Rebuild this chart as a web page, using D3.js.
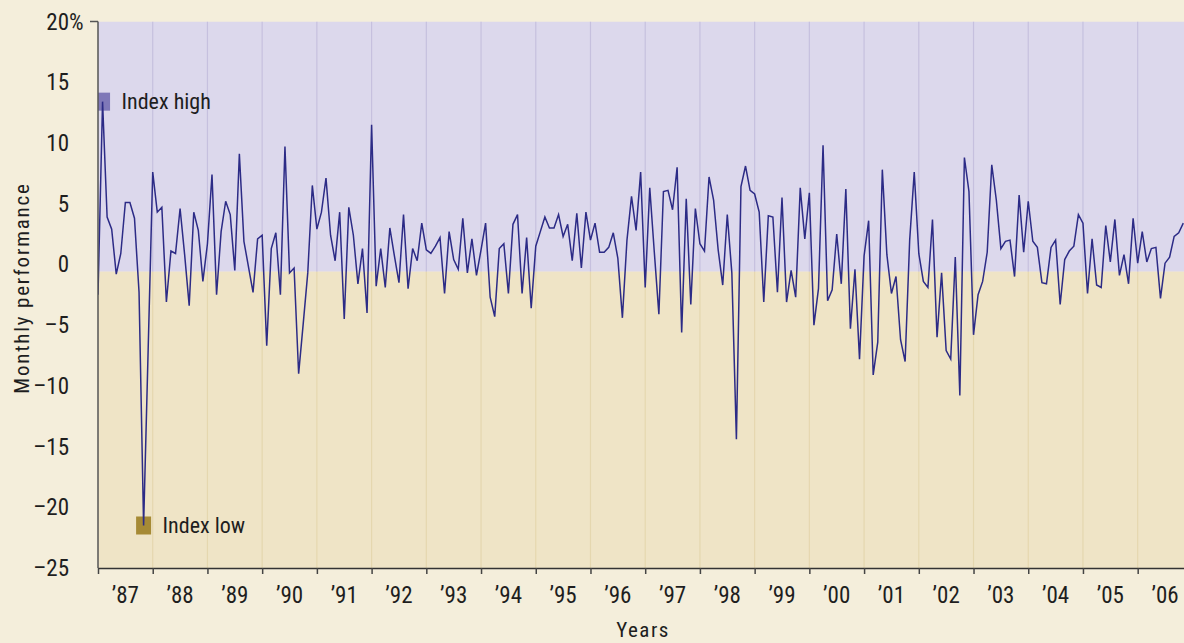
<!DOCTYPE html>
<html><head><meta charset="utf-8">
<script src="https://cdn.jsdelivr.net/npm/d3@7"></script>
<style>
body{margin:0;background:#f4eedb;}
svg{display:block;}
text{font-family:"Liberation Sans Narrow","Arial Narrow","Roboto Condensed",sans-serif;fill:#1e1e1e;}
</style>
</head><body><svg id="chart" width="1184" height="643"></svg>
<script>
// ---------- data ----------
const years = d3.range(1987, 2007);
const yearLabels = years.map(y => "\u2019" + String(y).slice(2));
const yTicks = [20, 15, 10, 5, 0, -5, -10, -15, -20, -25];
const yTickLabels = ["20", "15", "10", "5", "0", "\u20135", "\u201310", "\u201315", "\u201320", "\u201325"];
const monthly = [
  -2.5, 13.4, 3.9, 2.9, -0.8, 0.9, 5.1, 5.1, 3.8, -2.3, -21.5, -7.0,
  7.6, 4.3, 4.7, -3.1, 1.1, 0.9, 4.6, 0.8, -3.4, 4.3, 2.8, -1.4,
  1.7, 7.4, -2.5, 2.7, 5.2, 4.1, -0.5, 9.1, 1.9, -0.2, -2.3, 2.1,
  2.4, -6.7, 1.3, 2.6, -2.5, 9.7, -0.7, -0.3, -9.0, -4.9, -0.7, 6.5,
  2.9, 4.3, 7.1, 2.4, 0.3, 4.3, -4.5, 4.7, 2.4, -1.6, 1.3, -4.0,
  11.5, -1.8, 1.3, -1.9, 3.0, 0.7, -1.5, 4.1, -2.0, 1.3, 0.3, 3.4,
  1.2, 0.9, 1.5, 2.2, -2.4, 2.7, 0.4, -0.4, 3.8, -0.7, 2.1, -0.9,
  1.2, 3.4, -2.7, -4.3, 1.3, 1.7, -2.4, 3.3, 4.1, -2.4, 2.2, -3.6,
  1.5, 2.7, 3.9, 3.0, 3.0, 4.1, 2.3, 3.3, 0.3, 4.2, -0.3, 4.3,
  2.0, 3.4, 1.0, 1.0, 1.4, 2.6, 0.5, -4.4, 2.0, 5.6, 2.8, 7.6,
  -1.9, 6.3, 1.0, -4.1, 6.0, 6.1, 4.5, 8.0, -5.6, 5.4, -3.3, 4.6,
  1.7, 1.1, 7.2, 5.3, 1.2, -1.7, 4.1, -0.7, -14.4, 6.4, 8.1, 6.1,
  5.8, 4.3, -3.1, 4.0, 3.9, -2.3, 5.5, -3.1, -0.5, -2.7, 6.3, 2.1,
  5.9, -5.0, -2.0, 9.8, -3.0, -2.1, 2.5, -1.6, 6.2, -5.3, -0.4, -7.8,
  0.7, 3.6, -9.1, -6.4, 7.8, 0.8, -2.4, -1.0, -6.2, -8.0, 2.0, 7.6,
  0.9, -1.4, -1.9, 3.7, -6.0, -0.7, -7.1, -7.8, 0.6, -10.8, 8.8, 6.0,
  -5.8, -2.5, -1.4, 1.0, 8.2, 5.3, 1.3, 1.9, 2.0, -1.0, 5.7, 1.0,
  5.2, 1.9, 1.4, -1.5, -1.6, 1.4, 2.0, -3.3, 0.4, 1.1, 1.5, 4.1,
  3.4, -2.4, 2.1, -1.7, -1.9, 3.2, 0.2, 3.7, -0.9, 0.8, -1.6, 3.8,
  0.1, 2.7, 0.2, 1.3, 1.4, -2.8, 0.1, 0.6, 2.3, 2.6, 3.4
];
const bandSplit = -0.6;
const markerLabels = ["Index high", "Index low"];
const xTitle = "Years";
const yTitle = "Monthly performance";

// ---------- layout ----------
const W = 1184, H = 643;
const mLeft = 98, mBottom = 568, mTop = 21.5;
const yearW = 54.72;
const svg = d3.select("#chart");

const x = d3.scaleLinear().domain([1987, 2007]).range([mLeft, mLeft + 20 * yearW]);
const y = d3.scaleLinear().domain([-25, 20]).range([mBottom, mTop]);
const pts = monthly.map((v, i) => ({t: 1987 + i / 12, v}));

svg.append("rect").attr("width", W).attr("height", H).attr("fill", "#f4eedb");

svg.append("defs").append("clipPath").attr("id", "plotclip")
  .append("rect").attr("x", mLeft).attr("y", y(20)).attr("width", W - mLeft).attr("height", y(-25) - y(20));

const plot = svg.append("g").attr("clip-path", "url(#plotclip)");
plot.append("rect").attr("x", mLeft).attr("y", y(20)).attr("width", W - mLeft)
  .attr("height", y(bandSplit) - y(20)).attr("fill", "#dcd8ec");
plot.append("rect").attr("x", mLeft).attr("y", y(bandSplit)).attr("width", W - mLeft)
  .attr("height", y(-25) - y(bandSplit)).attr("fill", "#efe4c6");

const grid = years.slice(1);
plot.selectAll("line.gu").data(grid).join("line")
  .attr("x1", d => x(d)).attr("x2", d => x(d))
  .attr("y1", y(20)).attr("y2", y(bandSplit))
  .attr("stroke", "#c6c0de").attr("stroke-width", 1.2);
plot.selectAll("line.gl").data(grid).join("line")
  .attr("x1", d => x(d)).attr("x2", d => x(d))
  .attr("y1", y(bandSplit)).attr("y2", y(-25))
  .attr("stroke", "#e5d7af").attr("stroke-width", 1.2);

const iHigh = d3.maxIndex(monthly), iLow = d3.minIndex(monthly);
const ext = [
  {p: pts[iHigh], color: "#7f78b8", label: markerLabels[0]},
  {p: pts[iLow], color: "#a68a35", label: markerLabels[1]}
];
plot.selectAll("rect.mk").data(ext).join("rect")
  .attr("x", d => x(d.p.t) - 7.5).attr("y", d => y(d.p.v) - 9)
  .attr("width", 15).attr("height", 18).attr("fill", d => d.color);

plot.append("path").datum(pts)
  .attr("fill", "none").attr("stroke", "#2c2b86").attr("stroke-width", 1.5)
  .attr("d", d3.line().x(d => x(d.t)).y(d => y(d.v)));

svg.selectAll("text.mk").data(ext).join("text")
  .attr("x", d => x(d.p.t) + 19).attr("y", d => y(d.p.v))
  .attr("dy", "0.35em").attr("font-size", 22).text(d => d.label);

const xAxis = d3.axisBottom(x).tickValues(years).tickSize(6).tickFormat("");
const gx = svg.append("g").attr("transform", `translate(0,${mBottom})`).call(xAxis);
gx.select(".domain").attr("d", `M${mLeft},0.5H${W}`).attr("stroke", "#333").attr("stroke-width", 1.5);
gx.selectAll(".tick line").attr("stroke", "#444").attr("stroke-width", 1.5);

svg.selectAll("text.yl").data(years).join("text")
  .attr("x", d => x(d + 0.5)).attr("y", 603)
  .attr("text-anchor", "middle").attr("font-size", 23)
  .text((d, i) => yearLabels[i]);

svg.append("line").attr("x1", mLeft).attr("x2", mLeft).attr("y1", y(20)).attr("y2", mBottom)
  .attr("stroke", "#555").attr("stroke-width", 1.5);
svg.append("line").attr("x1", mLeft - 8).attr("x2", mLeft).attr("y1", y(20)).attr("y2", y(20))
  .attr("stroke", "#555").attr("stroke-width", 1.5);

svg.selectAll("text.yt").data(yTicks).join("text")
  .attr("x", 69).attr("y", d => y(d)).attr("dy", "0.35em")
  .attr("text-anchor", "end").attr("font-size", 23)
  .text((d, i) => yTickLabels[i]);
svg.append("text").attr("x", 69).attr("y", y(20)).attr("dy", "0.35em")
  .attr("font-size", 23).text("%");

svg.append("text").attr("x", 643).attr("y", 637).attr("text-anchor", "middle")
  .attr("font-size", 21).attr("letter-spacing", 1.5).text(xTitle);
svg.append("text").attr("transform", "translate(29,288) rotate(-90)")
  .attr("text-anchor", "middle").attr("font-size", 21).attr("letter-spacing", 1.8).text(yTitle);
</script>
</body></html>
